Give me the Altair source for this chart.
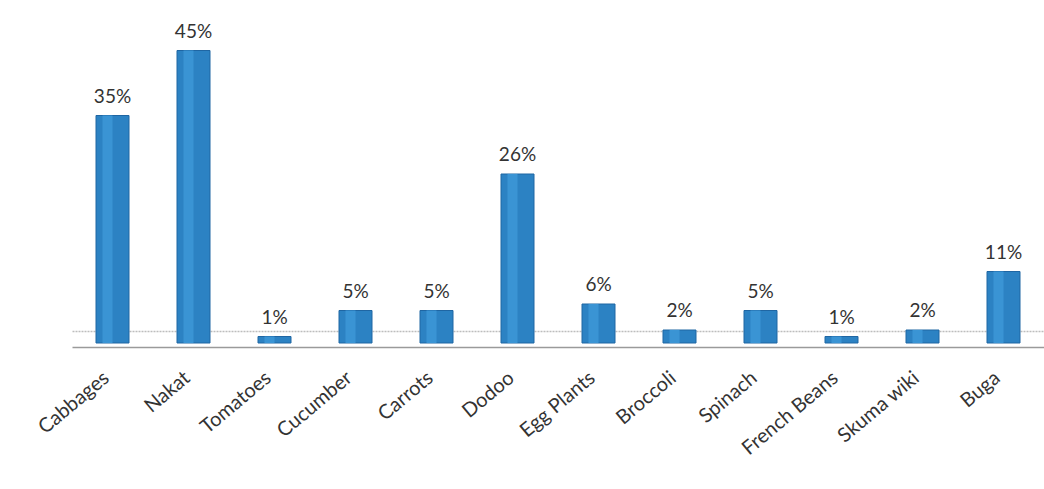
import altair as alt
import pandas as pd

categories = ["Cabbages", "Nakat", "Tomatoes", "Cucumber", "Carrots", "Dodoo",
              "Egg Plants", "Broccoli", "Spinach", "French Beans", "Skuma wiki", "Buga"]
values = [35, 45, 1, 5, 5, 26, 6, 2, 5, 1, 2, 11]
labels = [f"{v}%" for v in values]
floor_level = [1.9]

df = pd.DataFrame({"cat": categories, "val": values, "label": labels})

FONT = "Lato"
x_enc = alt.X("cat:N", sort=categories,
              scale=alt.Scale(paddingInner=0, paddingOuter=0),
              axis=alt.Axis(title=None, labelAngle=-40, labelAlign="right",
                            labelBaseline="middle", labelFontSize=20, labelFont=FONT,
                            labelColor="#333333", labelPadding=28, labelOffset=-6,
                            ticks=False, domainColor="#9a9a9a", domainWidth=1.5,
                            offset=4))
y_enc = alt.Y("val:Q", scale=alt.Scale(domain=[0, 50]),
              axis=alt.Axis(title=None, values=floor_level, labels=False, ticks=False,
                            domain=False, grid=True, gridColor="#bdbdbd",
                            gridWidth=1.5, gridDash=[2, 1]))

base = alt.Chart(df).encode(x=x_enc, y=y_enc)

bars = base.mark_bar(size=33, color="#2c82c3", stroke="#1f66a3", strokeWidth=1)
shine = base.mark_bar(size=10, xOffset=-5, color="#3a94d4")

text = base.mark_text(baseline="bottom", dy=-9, fontSize=19, font=FONT,
                      color="#333333").encode(text="label:N")

chart = alt.layer(bars, shine, text).properties(
    width=972, height=325,
    autosize=alt.AutoSizeParams(type="none"),
    padding={"left": 72, "top": 18, "right": 0, "bottom": 146},
).configure_view(stroke=None)

chart.save("out.html", embed_options={"renderer": "svg", "actions": False})
